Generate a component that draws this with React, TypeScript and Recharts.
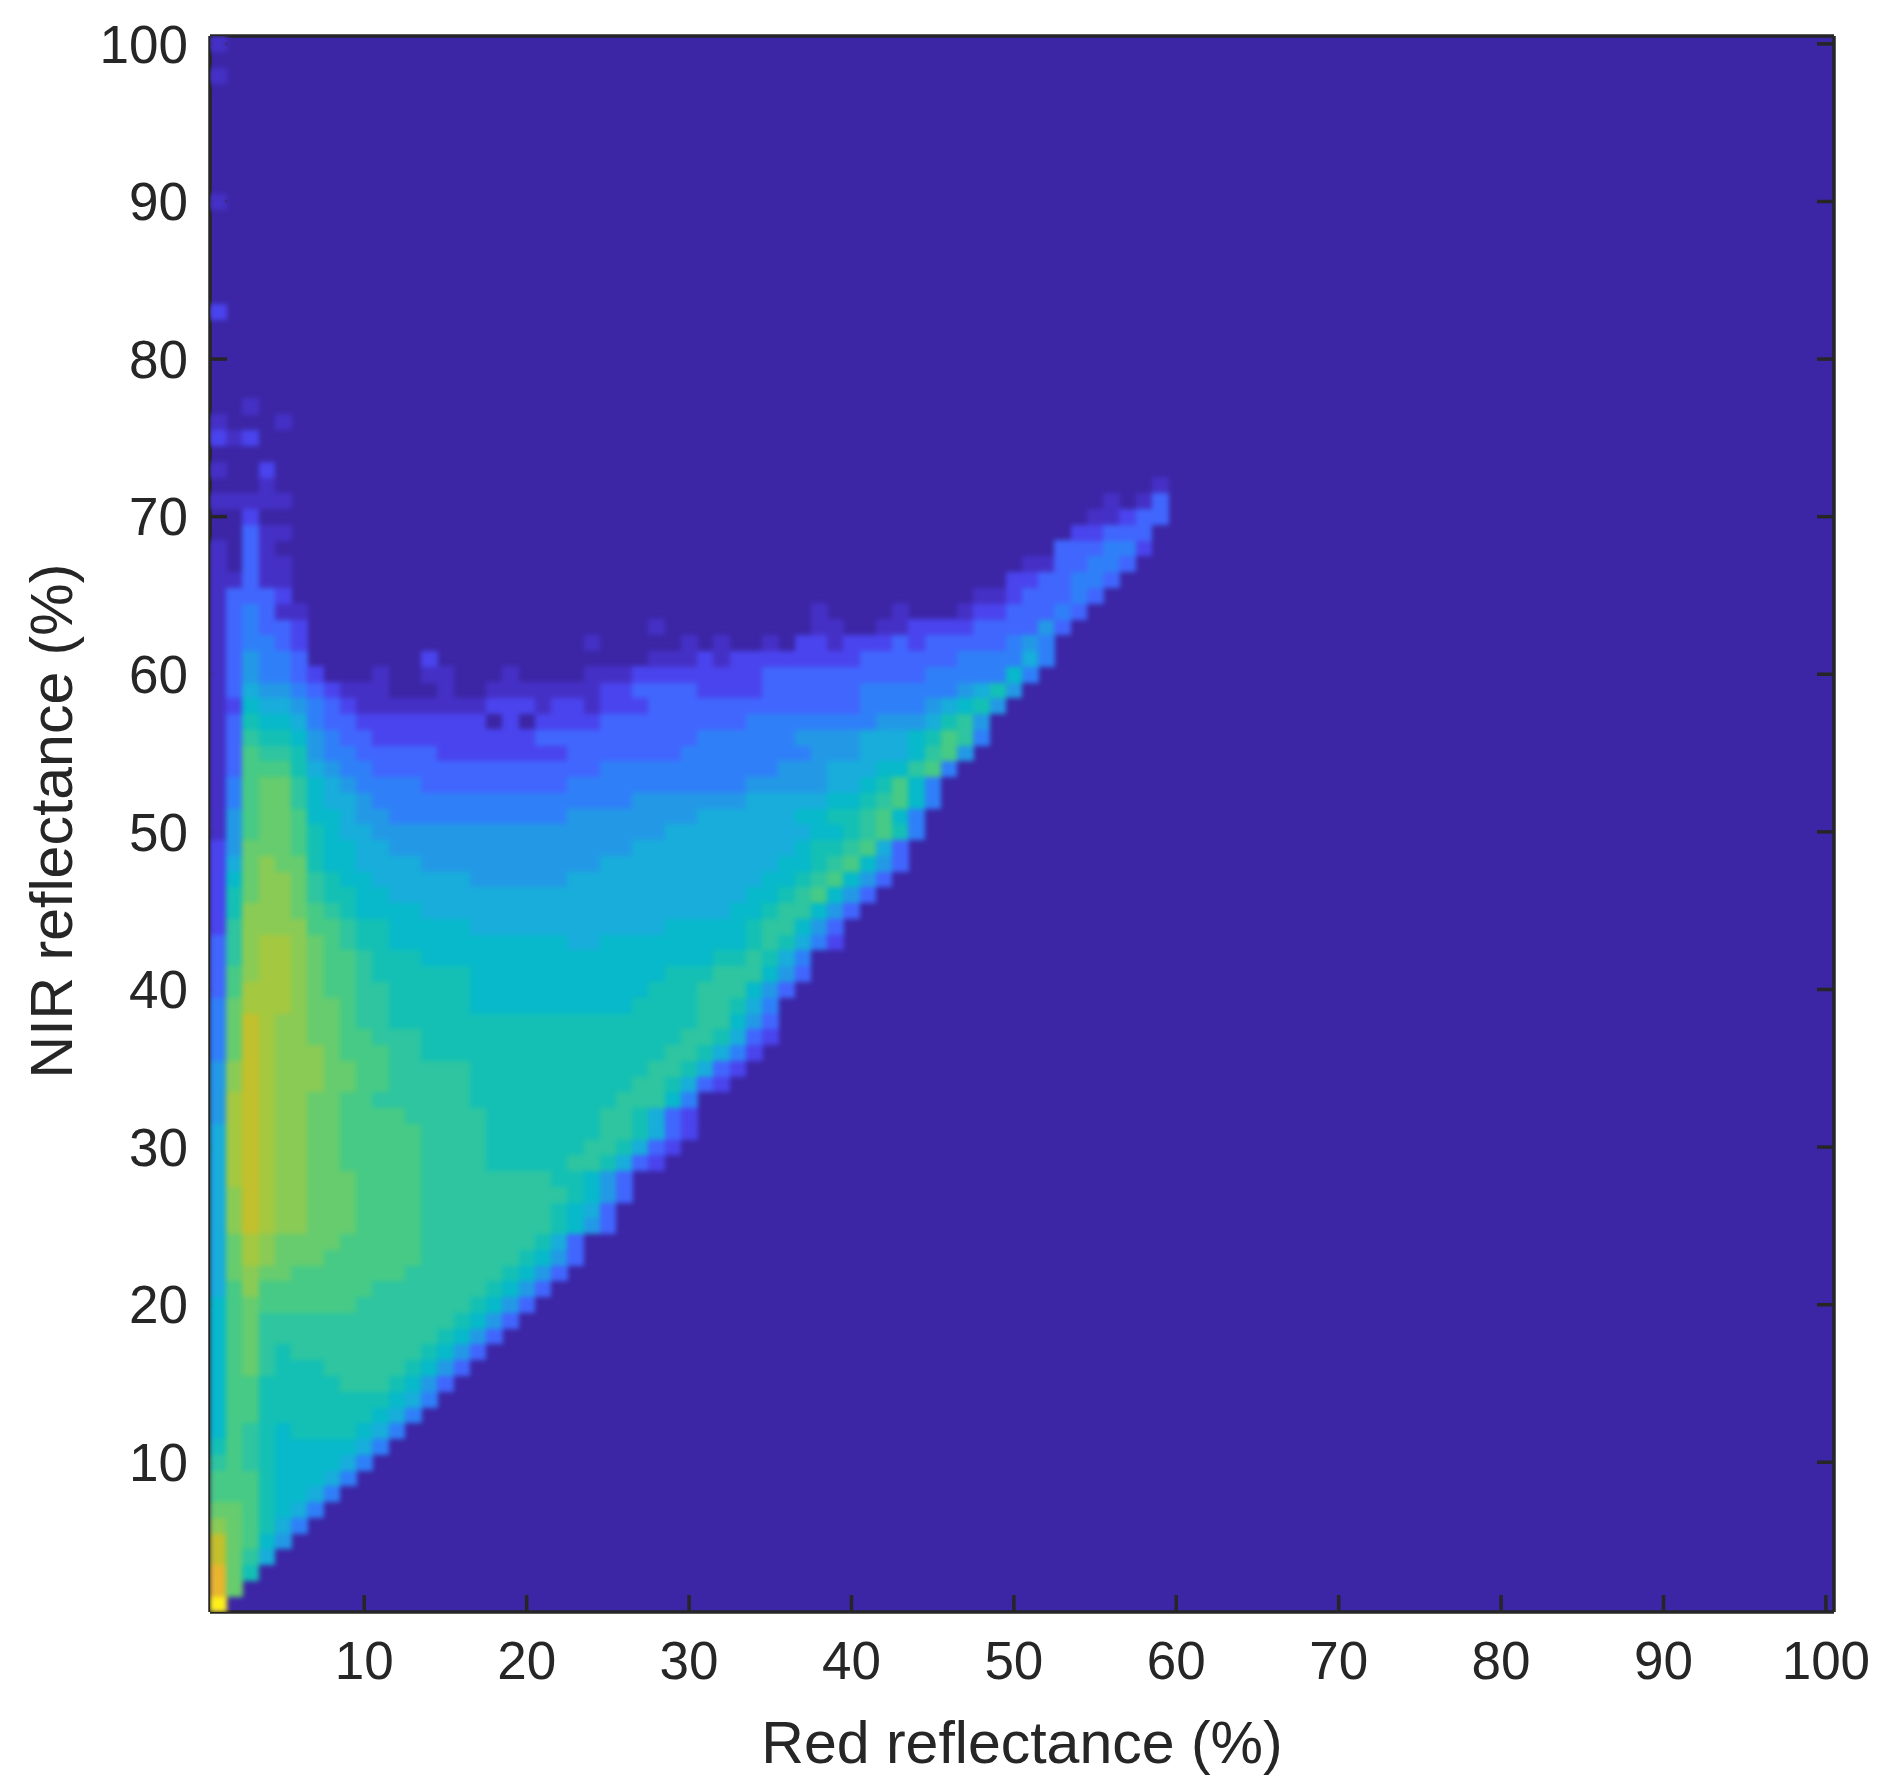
import { ScatterChart, Scatter, XAxis, YAxis, ReferenceArea, Label } from "recharts";

const axisTicks = [10, 20, 30, 40, 50, 60, 70, 80, 90, 100];
const axisDomain = [0.5, 100.5];

// density level per bin, one string per NIR row, left to right from red = 1.
// "8x5" means five bins of level 8, spaces are only there for readability
const lowRows = [
  "g", "fb", "fb8", "eb96", "eba75", "cba864", "bba8764", "aaa87764", "aaa877764", "9a98777764",
  "8a987777764", "7a9878888764", "7aa8888888764", "7aa88888888764", "7aa888889998753",
  "7ab9888999998753", "7ab98999999998753", "7ab 9x11 8753", "7ab 9x12 8753",
  "7ab ax6 9x7 8753", "6ac ax7 9x7 8753", "6bcbb ax7 9x6 8753", "6bdcbbb ax6 9x6 8753",
  "6bdcbbbb ax5 9x7 863", "6cedccbbb ax4 9x8 8753", "6cedccbbb ax4 9x8 8763",
  "6cedccbbb ax4 9x9 8753", "6dedccbbb ax4 9x8 88 753",
];
const middleRows = [
  "6dedccbb ax5 9999 8x5 99 8632", "6dedccbb ax5 9999 8x6 99 8632", "6dedccbb ax5 9999 8x7 99 8632",
  "5dedccbb aaaa 9x5 8x7 99 8632", "5dedccbbaa 9x6 8x9 999 74", "5cedcccbbaa 9x5 8x10 99 8632",
  "5cedcccbbaa 9x5 8x11 99 8632", "4bedcccbaaa99 8x15 99 8642", "4bedccbbaa999 8x16 99 8632",
  "4bedccbba99 8x19 99753", "4bdddcbba99 8x5 7x10 8888 99 864", "3adddcbaa99 8x5 7x11 888 999 753",
  "3acddcbaa98 8x5 7x12 888 999 753", "39cddcbaa98 88 7x18 88 9 864", "39cddcba988 7x11 66 7x9 89 8642",
  "29ccccaa988 7x5 6x12 7x5 899 753", "28cccba9877 77 6x19 77 8 99 753", "28bccb98877 6x22 77 8 9a 753",
  "27bccb98776 6x5 5x6 6x12 77 8 9a 753", "26bcbb87766 66 5x11 66 6x9 77 8 9a 753",
  "25bbba87766 5x15 6x10 7 88 9a 63", "15abba87665 5x17 6x9 77 89a 84",
  "15abba77655 4x11 5x8 6x6 77 88 9a 74", "14abb976654 4x15 5x7 6x5 77 8 9a 74",
  "14abb976544 44 3x9 4x11 5x5 66 78a 74", "13aaa865443 3x13 4x11 555 666 77 9a 4",
  "13a99854433 333 2x8 3x7 4x8 555 666 7 9a 5", "13988754332 2x9 3x10 4x6 5x4 666 78 a94",
  "13877643322 2x6 0 2 0 2222 3x9 4x8 555 6 8 9 5",
];
const upperRows = [
  "12766543211 1x6 222 1221 222 3x13 4444 5678 5",
  "13655432111 000 1 00 111 1 11 1 22 3333 2222 3x6 4x6 5685",
  "13544320001 00 11 000 1 0000 111 2x8 3x10 4x5 74",
  "135443 0x7 2 0x13 111 2 1 2x8 3x6 4444 64",
  "134432 0x17 1 0x5 1 0 1 00 1 0 22 1 222 3 2 3x5 454",
  "134332 0x21 1 0x9 11 00 11 2222 3333 53",
  "134311 0x31 1 0000 1 000 1 22 333 43",
  "13332 0x42 11 233 3 4 3",
  "11311 0x44 22 33 44 3",
  "10311 0x45 11 33 44 3",
  "10310 0x47 333 44 2",
  "00311 0x48 22 333",
  "002 0x51 11 2 33",
  "11111 0x50 1 0 1 3",
  "0001 0x54 1",
  "1002", "", "212", "10001", "001", "", "", "", "", "", "2", "",
  "", "", "", "", "", "1", "", "", "", "", "", "", "", "1", "", "1",
];

const levelKeys = "0123456789abcdefg";
const levelColors = [
  "#3c26a5", "#4530c6", "#4a44ee", "#4166fd", "#2f80f8", "#2399e6", "#18addb", "#07b9ca", "#14c0b4",
  "#2ec5a0", "#47ca85", "#66cc6e", "#8acb55", "#a4c840", "#c2c02c", "#e8b52d", "#fdf01a",
];

const width = 1886;
const height = 1790;
const margin = { top: 35, right: 51, left: 0, bottom: 0 };
const xAxisHeight = 178;
const yAxisWidth = 210;
const cellW = (width - yAxisWidth - margin.right - 1) / 100;
const cellH = (height - xAxisHeight - margin.top - 1) / 100;

const textColor = "#262626";
const fontFamily = "'Liberation Sans', Arial, sans-serif";
const tickStyle = { fontSize: 53, fill: textColor, fontFamily };
const titleSize = 59;
const lineStyle = { stroke: textColor, strokeWidth: 3.5 };

function expandRow(row: string) {
  return row
    .split(" ")
    .map((part) => {
      const [keys, count] = part.split("x");
      return count ? keys.repeat(Number(count)) : keys;
    })
    .join("");
}

const cells = [...lowRows, ...middleRows, ...upperRows].flatMap((row, r) =>
  expandRow(row)
    .split("")
    .map((key, c) => ({ red: c + 1, nir: r + 1, level: levelKeys.indexOf(key) }))
    .filter((cell) => cell.level > 0)
);

function HeatCell({ cx, cy, payload }: any) {
  return (
    <rect
      x={cx - cellW / 2}
      y={cy - cellH / 2}
      width={cellW + 0.4}
      height={cellH + 0.4}
      fill={levelColors[payload.level]}
      shapeRendering="crispEdges"
    />
  );
}

function YTitle({ viewBox }: any) {
  const y = viewBox.y + viewBox.height / 2 - 3;
  return (
    <text
      x={0}
      y={0}
      transform={`translate(72 ${y}) rotate(-90)`}
      textAnchor="middle"
      fontSize={titleSize}
      fontFamily={fontFamily}
      fill={textColor}
    >
      NIR reflectance (%)
    </text>
  );
}

// top and right axes only carry tick marks
function NoTickLabel() {
  return <g />;
}

export default function App() {
  return (
    <div style={{ position: "absolute", left: 0, top: 0, width, height, background: "#fff" }}>
      <style>{`.recharts-scatter { filter: blur(2.5px); }`}</style>
      <ScatterChart width={width} height={height} margin={margin}>
        <ReferenceArea
          x1={0.5}
          x2={100.5}
          y1={0.5}
          y2={100.5}
          fill={levelColors[0]}
          fillOpacity={1}
          stroke="none"
          ifOverflow="visible"
        />
        <Scatter data={cells} shape={<HeatCell />} isAnimationActive={false} />
        <XAxis
          type="number"
          dataKey="red"
          domain={axisDomain}
          ticks={axisTicks}
          allowDataOverflow
          height={xAxisHeight}
          tickSize={-17}
          tickMargin={46}
          tick={tickStyle}
          axisLine={lineStyle}
          tickLine={lineStyle}
          interval={0}
        >
          <Label
            value="Red reflectance (%)"
            position="insideBottom"
            offset={27}
            style={{ fontSize: titleSize, fill: textColor, fontFamily }}
          />
        </XAxis>
        <YAxis
          type="number"
          dataKey="nir"
          domain={axisDomain}
          ticks={axisTicks}
          allowDataOverflow
          width={yAxisWidth}
          tickSize={-17}
          tickMargin={39}
          tick={tickStyle}
          axisLine={lineStyle}
          tickLine={lineStyle}
          interval={0}
        >
          <Label content={<YTitle />} />
        </YAxis>
        <XAxis
          xAxisId="top"
          orientation="top"
          type="number"
          domain={axisDomain}
          ticks={axisTicks}
          allowDataOverflow
          height={1}
          tickSize={-17}
          tick={<NoTickLabel />}
          axisLine={lineStyle}
          tickLine={lineStyle}
          interval={0}
        />
        <YAxis
          yAxisId="right"
          orientation="right"
          type="number"
          domain={axisDomain}
          ticks={axisTicks}
          allowDataOverflow
          width={1}
          tickSize={-17}
          tick={<NoTickLabel />}
          axisLine={lineStyle}
          tickLine={lineStyle}
          interval={0}
        />
      </ScatterChart>
    </div>
  );
}
